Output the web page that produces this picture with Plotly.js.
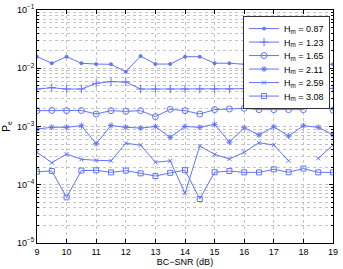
<!DOCTYPE html>
<html><head><meta charset="utf-8">
<script src="https://cdn.plot.ly/plotly-3.0.1.min.js"></script>
<style>html,body{margin:0;padding:0;background:#fff}#c{width:343px;height:269px}</style>
</head><body><div id="c"></div>
<script>
const snr = [9,9.5,10,10.5,11,11.5,12,12.5,13,13.5,14,14.5,15,15.5,16,16.5,17,17.5,18,18.5,19];
const names = ['H<sub>m</sub> = 0.87','H<sub>m</sub> = 1.23','H<sub>m</sub> = 1.65','H<sub>m</sub> = 2.11','H<sub>m</sub> = 2.59','H<sub>m</sub> = 3.08'];
const pe087 = [0.0158,0.0122,0.0158,0.0122,0.0118,0.0117,0.0087,0.0162,0.0118,0.0118,0.0158,0.0158,0.0122,0.0122,0.0117,0.0117,0.0117,0.0117,0.0117,0.0117,0.0117];
const pe123 = [0.0044,0.00463,0.0044,0.0044,0.0055,0.0059,0.0058,0.0044,0.0044,0.0044,0.0044,0.0044,0.0044,0.0044,0.0045,0.0045,0.0045,0.0045,0.0045,0.0045,0.0045];
const pe165 = [0.00187,0.00188,0.00187,0.00188,0.00164,0.00187,0.00182,0.00187,0.00148,0.00197,0.00187,0.00164,0.00195,0.0020,0.00205,0.00195,0.00195,0.00195,0.00195,0.00257,0.0019];
const pe211 = [0.000905,0.00097,0.00097,0.00103,0.000507,0.00104,0.00097,0.00094,0.0010,0.00065,0.0010,0.00097,0.00109,0.00054,0.00095,0.000714,0.00099,0.000685,0.00103,0.00097,0.00072];
const pe259 = [0.00036,0.000239,0.000337,0.000273,0.000263,0.000258,0.000514,0.00048,0.000243,0.000258,0.0000713,0.000462,0.000333,0.000277,0.00036,0.000527,0.00048,0.000258,null,0.000284,0.00048];
const pe308 = [0.000168,0.000172,0.0000608,0.000175,0.000177,0.000163,0.000175,0.000157,0.000141,0.00016,0.000178,0.0000569,0.000164,0.000172,0.000163,0.000163,0.000184,0.000164,0.00019,0.000163,0.000163];
const yTickVals = [1e-5,1e-4,1e-3,1e-2,1e-1];
const yTickText = ['10<sup>−5</sup>','10<sup>−4</sup>','10<sup>−3</sup>','10<sup>−2</sup>','10<sup>−1</sup>'];
const xTickVals = [9,10,11,12,13,14,15,16,17,18,19];

const col = '#6175f7';
const series = [pe087,pe123,pe165,pe211,pe259,pe308];
const syms = ['circle','cross-thin-open','circle-open','asterisk-open','x-thin-open','square-open'];
const sizes = [3,6,6,5,4,5];
const data = series.map((s,i)=>({
  x: snr, y: s, name: names[i], type:'scatter', mode:'lines+markers',
  line:{color:col,width:1}, connectgaps:false,
  marker:{symbol:syms[i],size:sizes[i],color:col,line:{color:col,width:1}}
}));
const axisCommon = {showline:true, linecolor:'#000', linewidth:1, mirror:'ticks', ticks:'inside', ticklen:4, tickcolor:'#000',
  showgrid:true, gridcolor:'#c4c4c4', griddash:'dot', gridwidth:1, zeroline:false,
  tickfont:{family:'Liberation Sans, Arial, sans-serif', size:9, color:'#000'}};
const layout = {
  width:343, height:269, margin:{l:37,r:10,t:10,b:26},
  paper_bgcolor:'#fff', plot_bgcolor:'#fff', showlegend:true,
  font:{family:'Liberation Sans, Arial, sans-serif', size:9, color:'#000'},
  xaxis: Object.assign({}, axisCommon, {range:[9,19], tickvals:xTickVals, ticktext:xTickVals.map(String),
    title:{text:'BC−SNR (dB)', font:{size:9}, standoff:2}}),
  yaxis: Object.assign({}, axisCommon, {type:'log', range:[-5,-1], tickvals:yTickVals, ticktext:yTickText,
    minor:{showgrid:true, gridcolor:'#c4c4c4', griddash:'dot', dtick:'D1', ticks:'inside', ticklen:2, tickcolor:'#000'},
    title:{text:'P<sub>e</sub>', font:{size:10}, standoff:4}}),
  legend:{x:0.99, y:0.975, xanchor:'right', yanchor:'top', bgcolor:'#fff', bordercolor:'#333', borderwidth:1,
    font:{size:9}, tracegroupgap:0, itemwidth:30}
};
Plotly.newPlot('c', data, layout, {staticPlot:true}).then(()=>{
  // tighten legend row spacing to match the reference
  const leg = document.querySelector('.legend');
  if (!leg) return;
  const items = leg.querySelectorAll('.traces');
  const step = 13.5, shrink = 19 - step;
  items.forEach((t,i)=>{
    const m = (t.getAttribute('transform')||'').match(/translate\(\s*([-\d.]+)[ ,]+([-\d.]+)\s*\)/);
    if (!m) return;
    const y = parseFloat(m[2]) - shrink*i - shrink/2;
    t.setAttribute('transform', 'translate(' + m[1] + ',' + y + ')');
  });
  const bg = leg.querySelector('rect.bg');
  if (bg) bg.setAttribute('height', parseFloat(bg.getAttribute('height')) - shrink*items.length);
});
</script></body></html>
